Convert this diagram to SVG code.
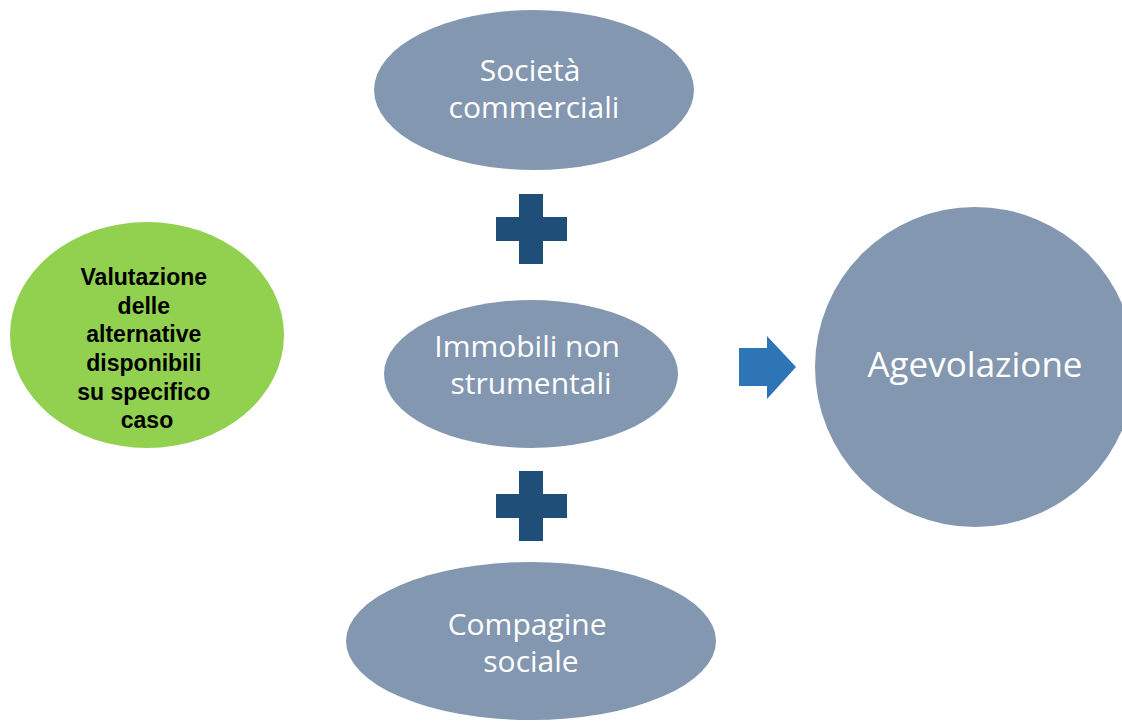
<svg xmlns="http://www.w3.org/2000/svg" width="1122" height="721" viewBox="0 0 1122 721">
  <style>
    .grey { fill: #8497B0; }
    .lbl { fill: #FFFFFF; font-family: "Open Sans", "Liberation Sans", sans-serif; font-size: 30px; text-anchor: middle; }
    .big { font-size: 35px; }
    .green { fill: #92D050; }
    .glbl { fill: #000000; font-family: "Liberation Sans", Arial, sans-serif; font-weight: bold; font-size: 23px; text-anchor: middle; }
    .plus { fill: #1F4E79; }
    .arrow { fill: #2E75B6; }
  </style>
  <rect width="1122" height="721" fill="#FFFFFF"/>

  <g id="valutazione">
    <ellipse class="green" cx="147" cy="335" rx="137" ry="113"/>
    <text class="glbl">
      <tspan x="147" y="285">Valutazione</tspan>
      <tspan x="147" y="314">delle</tspan>
      <tspan x="147" y="342">alternative</tspan>
      <tspan x="147" y="371">disponibili</tspan>
      <tspan x="147" y="400">su specifico</tspan>
      <tspan x="147" y="428">caso</tspan>
    </text>
  </g>

  <g id="societa">
    <ellipse class="grey" cx="534" cy="90" rx="160" ry="80"/>
    <text class="lbl">
      <tspan x="534" y="81">Società</tspan>
      <tspan x="534" y="118">commerciali</tspan>
    </text>
  </g>

  <g id="immobili">
    <ellipse class="grey" cx="531" cy="374" rx="147" ry="74"/>
    <text class="lbl">
      <tspan x="531" y="357">Immobili non</tspan>
      <tspan x="531" y="394">strumentali</tspan>
    </text>
  </g>

  <g id="compagine">
    <ellipse class="grey" cx="531" cy="641" rx="185" ry="79"/>
    <text class="lbl">
      <tspan x="531" y="635">Compagine</tspan>
      <tspan x="531" y="672">sociale</tspan>
    </text>
  </g>

  <g id="agevolazione">
    <ellipse class="grey" cx="975" cy="367" rx="160" ry="160"/>
    <text class="lbl big" x="975" y="377">Agevolazione</text>
  </g>

  <g id="connectors">
    <path class="plus" d="M519 194 H543 V217 H567 V241 H543 V264 H519 V241 H496 V217 H519 Z"/>
    <path class="plus" d="M519 471 H543 V494 H567 V518 H543 V541 H519 V518 H496 V494 H519 Z"/>
    <path class="arrow" d="M739 348 H767 V336 L796 367 L767 399 V386 H739 Z"/>
  </g>
</svg>
